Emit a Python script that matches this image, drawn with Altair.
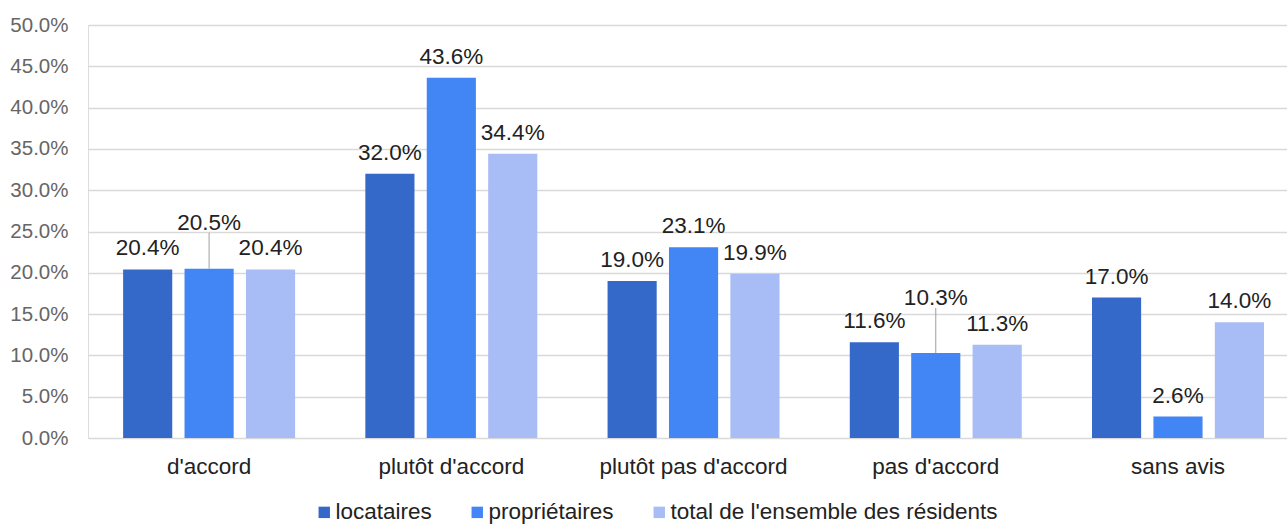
import altair as alt
import pandas as pd

# Survey answers, in percent
categories = ["d'accord", "plutôt d'accord", "plutôt pas d'accord", "pas d'accord", "sans avis"]
series = ["locataires", "propriétaires", "total de l'ensemble des résidents"]
locataires = [20.4, 32.0, 19.0, 11.6, 17.0]
proprietaires = [20.5, 43.6, 23.1, 10.3, 2.6]
total = [20.4, 34.4, 19.9, 11.3, 14.0]
colors = ["#3569C9", "#4285F4", "#A8BCF6"]

rows = []
for values, name in zip([locataires, proprietaires, total], series):
    for cat, v in zip(categories, values):
        rows.append({"categorie": cat, "serie": name, "pct": v})
df = pd.DataFrame(rows)

# labels that would collide are lifted and tied to their bar with a leader line
lifted = {("d'accord", "propriétaires"): 3.0, ("pas d'accord", "propriétaires"): 4.1}
df["lift"] = [lifted.get((c, s), 0.0) for c, s in zip(df["categorie"], df["serie"])]
df["value"] = df["pct"] / 100
df["label_y"] = (df["pct"] + df["lift"]) / 100
df["leader_top"] = (df["pct"] + df["lift"] + 1.35) / 100

FONT = "Liberation Sans"

x = alt.X(
    "categorie:N",
    sort=categories,
    title=None,
    scale=alt.Scale(paddingInner=0.29, paddingOuter=0.12, align=0.604),
    axis=alt.Axis(labelAngle=0, labelFontSize=22.5, labelColor="#222222",
                  labelPadding=17, labelLimit=0, grid=False, labelFont=FONT,
                  domain=False, ticks=False),
)
x_off = alt.XOffset("serie:N", sort=series, scale=alt.Scale(paddingInner=0.2, paddingOuter=0))
y_scale = alt.Scale(domain=[0, 0.5])
y_axis = alt.Axis(format=".1%", values=[i * 0.05 for i in range(11)],
                  labelFontSize=20.5, labelColor="#666666", labelPadding=20,
                  gridColor="#D9D9D9", gridWidth=1.5, labelFont=FONT,
                  domain=False, ticks=False)

base = alt.Chart(df)

bars = base.mark_bar().encode(
    x=x,
    xOffset=x_off,
    y=alt.Y("value:Q", scale=y_scale, title=None, axis=y_axis),
    color=alt.Color("serie:N", sort=series,
                    scale=alt.Scale(domain=series, range=colors),
                    legend=alt.Legend(title=None, orient="none", direction="horizontal",
                                      legendX=225, legendY=476, symbolType="square",
                                      symbolSize=130, symbolStrokeWidth=0,
                                      labelFontSize=22.5, labelColor="#222222",
                                      labelFont=FONT, labelLimit=0,
                                      columnPadding=34, labelOffset=0)),
)

leaders = base.transform_filter("datum.lift > 0").mark_rule(color="#9E9E9E", strokeWidth=1).encode(
    x=x,
    xOffset=x_off,
    y=alt.Y("value:Q", scale=y_scale, title=None, axis=y_axis),
    y2="leader_top:Q",
)

labels = base.mark_text(baseline="alphabetic", dy=-14, fontSize=22.5, color="#222222",
                        font=FONT).encode(
    x=x,
    xOffset=x_off,
    y=alt.Y("label_y:Q", scale=y_scale, title=None, axis=y_axis),
    text=alt.Text("value:Q", format=".1%"),
)

chart = (
    alt.layer(bars, leaders, labels)
    .properties(width=1199, height=413, autosize=alt.AutoSizeParams(type="none"),
                padding={"left": 88, "top": 25, "right": 0, "bottom": 86})
    .configure_axis(domain=False, ticks=False, domainColor="transparent", domainOpacity=0)
    .configure_axisX(grid=False, domain=False)
    .configure_axisY(domain=False)
    .configure_view(stroke="transparent", strokeWidth=0, strokeOpacity=0)
    .configure(background="white")
)

chart.save("out.html", embed_options={"renderer": "svg", "actions": False})
